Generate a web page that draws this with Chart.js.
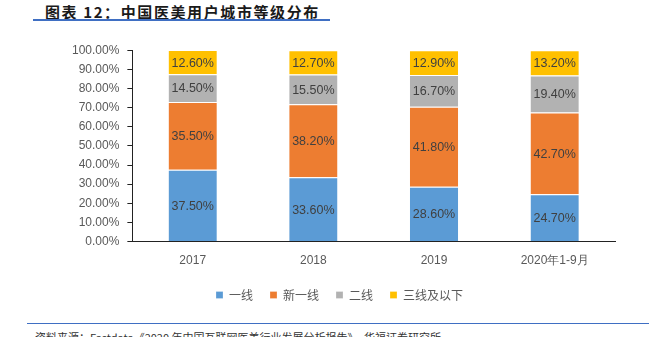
<!DOCTYPE html>
<html>
<head>
<meta charset="utf-8">
<script src="https://cdn.jsdelivr.net/npm/chart.js@4.4.1/dist/chart.umd.min.js"></script>
<style>
  body { margin: 0; background: #fff; }
  #page { position: relative; width: 649px; height: 337px; overflow: hidden; font-family: "Noto Sans CJK SC", sans-serif; }
  #title { position: absolute; left: 45px; top: 1px; font-size: 15px; font-weight: bold; letter-spacing: 1.6px; color: #1a1a1a; white-space: nowrap; }
  #titleLine { position: absolute; left: 33px; top: 19px; width: 297px; height: 2px; background: #3f6fc3; }
  #chartBox { position: absolute; left: 64px; top: 35px; width: 585px; height: 282px; }
  #footLine { position: absolute; left: 27px; top: 323px; width: 622px; height: 1px; background: #3f6fc3; }
  #footer { position: absolute; left: 35px; top: 329px; font-size: 11px; color: #333; white-space: nowrap; }
</style>
</head>
<body>
<div id="page">
  <div id="title">图表 12：中国医美用户城市等级分布</div>
  <div id="titleLine"></div>
  <div id="chartBox"><canvas id="tierChart"></canvas></div>
  <div id="footLine"></div>
  <div id="footer">资料来源：Fastdata《2020 年中国互联网医美行业发展分析报告》，华福证券研究所</div>
</div>
<script>
// Categories and series (percent shares)
const years = ['2017', '2018', '2019', '2020年1-9月'];
const tier1 = [37.5, 33.6, 28.6, 24.7];
const newTier1 = [35.5, 38.2, 41.8, 42.7];
const tier2 = [14.5, 15.5, 16.7, 19.4];
const tier3Below = [12.6, 12.7, 12.9, 13.2];

const seriesNames = ['一线', '新一线', '二线', '三线及以下'];
const seriesColors = ['#5b9bd5', '#ed7d31', '#b2b2b2', '#ffc000'];

const numFont = 'Liberation Sans';

// Draws the value inside each bar segment
const segmentLabels = {
  id: 'segmentLabels',
  afterDatasetsDraw(chart) {
    const ctx = chart.ctx;
    ctx.save();
    ctx.font = '12.5px "' + numFont + '"';
    ctx.fillStyle = '#404040';
    ctx.textAlign = 'center';
    ctx.textBaseline = 'middle';
    chart.data.datasets.forEach((ds, i) => {
      const meta = chart.getDatasetMeta(i);
      meta.data.forEach((bar, j) => {
        const top = Math.max(bar.y, chart.chartArea.top);
        ctx.fillText(ds.data[j].toFixed(2) + '%', bar.x, (top + bar.base) / 2 + 1);
      });
    });
    ctx.restore();
  }
};

const seriesData = [tier1, newTier1, tier2, tier3Below];

new Chart(document.getElementById('tierChart'), {
  type: 'bar',
  data: {
    labels: years,
    datasets: seriesData.map((d, i) => ({
      label: seriesNames[i],
      data: d,
      backgroundColor: seriesColors[i],
      borderColor: '#ffffff',
      borderWidth: { top: 1, bottom: 0, left: 0, right: 0 },
      borderSkipped: false,
      categoryPercentage: 0.8,
      barPercentage: 0.5
    }))
  },
  options: {
    responsive: true,
    maintainAspectRatio: false,
    animation: false,
    layout: { padding: { top: 2, right: 34, bottom: 6, left: 0 } },
    plugins: {
      legend: {
        position: 'bottom',
        labels: {
          boxWidth: 7,
          boxHeight: 7,
          padding: 17,
          color: '#595959',
          font: { family: 'Noto Sans CJK SC', size: 12 }
        }
      },
      tooltip: { enabled: false }
    },
    scales: {
      x: {
        stacked: true,
        grid: { display: false },
        border: { color: '#222', width: 1 },
        ticks: {
          color: '#595959',
          padding: 4,
          font: { family: numFont, size: 12 }
        }
      },
      y: {
        stacked: true,
        min: 0,
        max: 100,
        grid: { drawOnChartArea: false, drawTicks: true, tickLength: 5, color: '#222' },
        border: { color: '#222', width: 1 },
        ticks: {
          stepSize: 10,
          color: '#595959',
          padding: 8,
          font: { family: numFont, size: 12 },
          callback: v => v.toFixed(2) + '%'
        }
      }
    }
  },
  plugins: [segmentLabels]
});
</script>
</body>
</html>
